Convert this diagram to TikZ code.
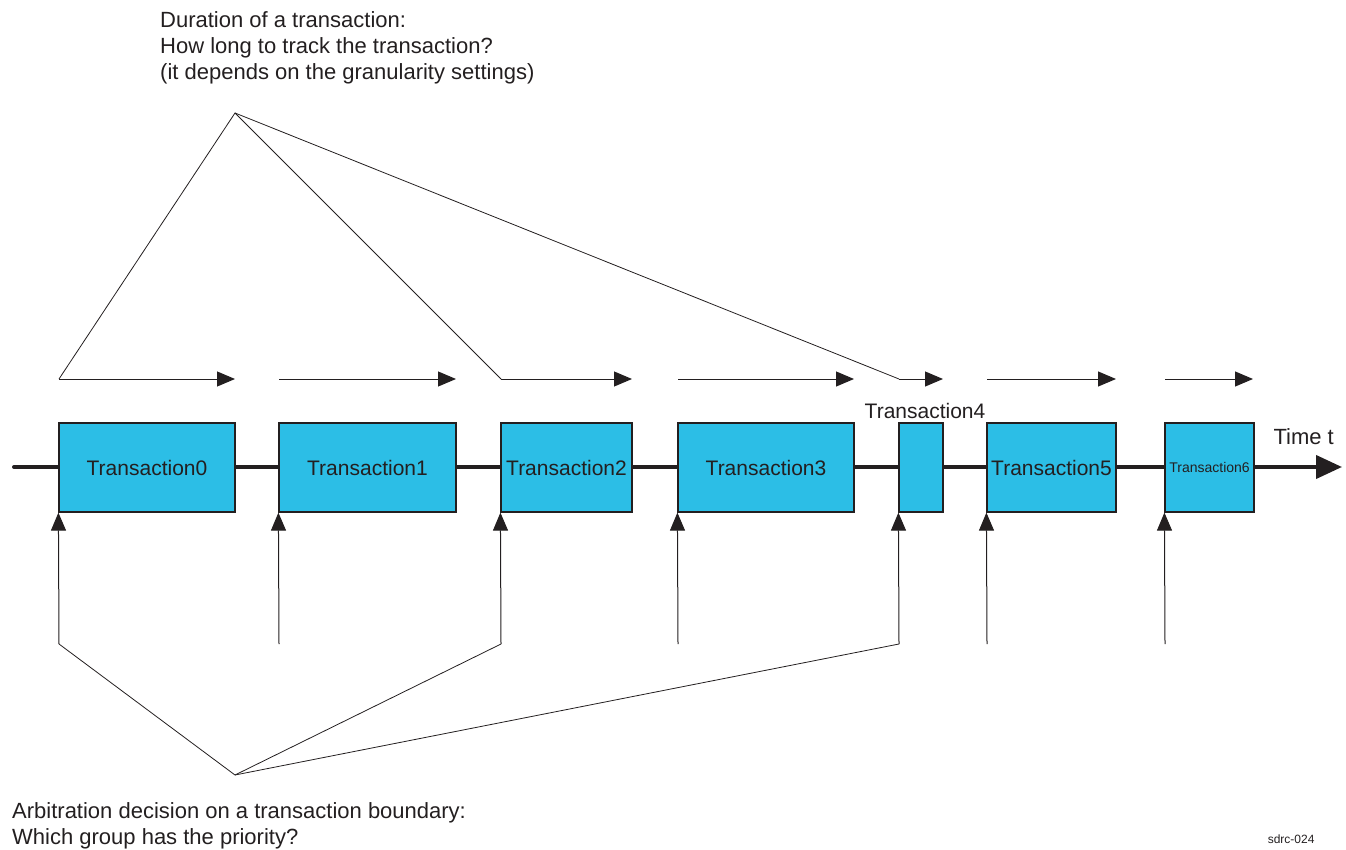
\documentclass[tikz,border=0pt]{standalone}
\usepackage{fontspec}
\setmainfont{Liberation Sans}
\usetikzlibrary{arrows.meta}
\definecolor{ink}{RGB}{35,31,32}
\definecolor{txfill}{RGB}{44,190,230}
\tikzset{
  tbox/.style={draw=ink, line width=1.2pt, fill=txfill, minimum height=89pt, inner sep=0pt,
    font=\fontsize{21}{25}\selectfont, text=ink},
  axis/.style={draw=ink, line width=4pt, line cap=round, -{Triangle[length=26pt,width=23pt]}},
  dur/.style={draw=ink, line width=1pt, -{Triangle[length=18pt,width=15pt]}},
  upar/.style={draw=ink, line width=1pt, -{Triangle[length=18pt,width=15pt]}},
  guide/.style={draw=ink, line width=0.8pt},
  note/.style={font=\fontsize{22}{26}\selectfont, text=ink, align=left, inner sep=0pt}
}
\begin{document}
\begin{tikzpicture}[x=1pt,y=-1pt]
\useasboundingbox (0,0) rectangle (1346,850);
\coordinate (tl) at (14,467);
\coordinate (tr) at (1342,467);
\draw[axis] (tl) -- (tr);
\node[note, anchor=base east] (time) at (1334,444) {Time t};
\foreach \n/\l/\r in {0/59/235,1/279/456,2/501/632,3/678/854,5/987/1116}{
  \node[tbox, minimum width=\r-\l] (t\n) at ({(\l+\r)/2},467.5) {Transaction\n};
}
\node[tbox, minimum width=44] (t4) at (921,467.5) {};
\node[note, font=\fontsize{21}{25}\selectfont, anchor=base] (t4l) at (925,418) {Transaction4};
\node[tbox, minimum width=89, font=\fontsize{14}{16}\selectfont] (t6) at (1209.5,467.5) {Transaction6};
\foreach \n/\l/\r in {0/59/235,1/279/456,2/501/632,3/678/854,4/899/943,5/987/1116,6/1165/1253}{
  \coordinate (d\n s) at (\l,379);
  \coordinate (d\n e) at (\r,379);
  \draw[dur] (d\n s) -- (d\n e);
  \coordinate (a\n) at (\l,644);
  \draw[upar] (a\n) -- (t\n.south west);
}
\coordinate (ta) at (235,113);
\draw[guide] (d0s) -- (ta) -- (d2s);
\draw[guide] (ta) -- (d4s);
\coordinate (ba) at (235,775);
\draw[guide] (a0) -- (ba) -- (a2);
\draw[guide] (ba) -- (a4);
\node[note, anchor=north west] (dur) at (160,11) {Duration of a transaction:\\How long to track the transaction?\\(it depends on the granularity settings)};
\node[note, anchor=north west] (arb) at (12,802) {Arbitration decision on a transaction boundary:\\Which group has the priority?};
\node[font=\fontsize{12}{14}\selectfont, text=ink, anchor=east] (tag) at (1318,839) {sdrc-024};
\end{tikzpicture}
\end{document}
